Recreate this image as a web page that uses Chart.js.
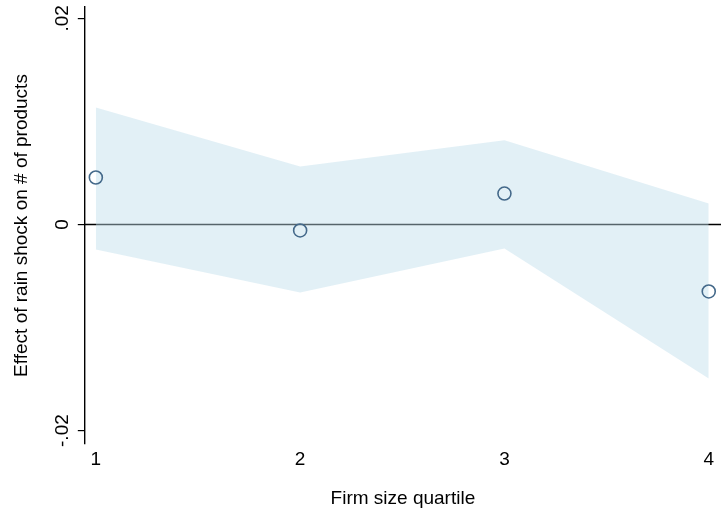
<!DOCTYPE html>
<html>
<head>
<meta charset="utf-8">
<script src="https://cdn.jsdelivr.net/npm/chart.js@4"></script>
<style>
  html, body { margin: 0; padding: 0; background: #fff; }
  #wrap { width: 723px; height: 512px; }
</style>
</head>
<body>
<div id="wrap"><canvas id="chart" width="723" height="512"></canvas></div>
<script>
// Data
const quartiles = [1, 2, 3, 4];
const effect = [0.00456, -0.00058, 0.0030, -0.0065];
const ciUpper = [0.01136, 0.00563, 0.00816, 0.00204];
const ciLower = [-0.00243, -0.0066, -0.00233, -0.01495];
const yTicks = [-0.02, 0, 0.02];
const yTickLabels = ["-.02", "0", ".02"];

const FONT = "'Liberation Sans', Arial, sans-serif";
const FSIZE = 19;

const toPoints = vals => quartiles.map((q, i) => ({ x: q, y: vals[i] }));

// zero reference line, drawn under the band
const zeroLine = {
    id: "zeroLine",
    beforeDatasetsDraw(chart) {
        const { ctx, chartArea, scales } = chart;
        const y = scales.y.getPixelForValue(0);
        ctx.save();
        ctx.strokeStyle = "#000";
        ctx.lineWidth = 1.6;
        ctx.beginPath();
        ctx.moveTo(chartArea.left, y);
        ctx.lineTo(chartArea.right, y);
        ctx.stroke();
        ctx.restore();
    }
};

// rotated y tick labels (Stata style)
const yLabels = {
    id: "yLabels",
    afterDraw(chart) {
        const { ctx, scales } = chart;
        const sc = scales.y;
        ctx.save();
        ctx.font = FSIZE + "px " + FONT;
        ctx.fillStyle = "#000";
        ctx.textAlign = "center";
        ctx.textBaseline = "middle";
        yTicks.forEach((v, i) => {
            const py = sc.getPixelForValue(v);
            ctx.save();
            ctx.translate(sc.right - 22, py);
            ctx.rotate(-Math.PI / 2);
            ctx.fillText(yTickLabels[i], 0, 0);
            ctx.restore();
        });
        ctx.restore();
    }
};

new Chart(document.getElementById("chart"), {
    type: "scatter",
    data: {
        datasets: [
            {
                label: "upper",
                type: "line",
                data: toPoints(ciUpper),
                borderWidth: 0,
                pointRadius: 0,
                fill: "+1",
                backgroundColor: "rgba(191,221,234,0.45)",
                order: 2
            },
            {
                label: "lower",
                type: "line",
                data: toPoints(ciLower),
                borderWidth: 0,
                pointRadius: 0,
                fill: false,
                order: 2
            },
            {
                label: "effect",
                data: toPoints(effect),
                pointRadius: 6.5,
                pointBorderWidth: 1.6,
                pointBorderColor: "#44698a",
                pointBackgroundColor: "rgba(0,0,0,0)",
                order: 1
            }
        ]
    },
    options: {
        responsive: false,
        animation: false,
        layout: {
            autoPadding: false,
            padding: { left: 5, right: 2, top: 7, bottom: 2 }
        },
        plugins: {
            legend: { display: false },
            tooltip: { enabled: false }
        },
        scales: {
            x: {
                type: "linear",
                min: 0.946,
                max: 4.06,
                afterBuildTicks: s => { s.ticks = quartiles.map(v => ({ value: v })); },
                afterFit: s => { s.paddingLeft = 0; s.paddingRight = 0; },
                grid: { display: false, drawTicks: false },
                border: { display: false },
                ticks: {
                    padding: 4,
                    color: "#000",
                    font: { family: FONT, size: FSIZE },
                    callback: v => String(v)
                },
                title: {
                    display: true,
                    text: "Firm size quartile",
                    color: "#000",
                    font: { family: FONT, size: FSIZE },
                    padding: { top: 12.4, bottom: 0 }
                }
            },
            y: {
                type: "linear",
                min: -0.0213,
                max: 0.0211,
                afterBuildTicks: s => { s.ticks = yTicks.map(v => ({ value: v })); },
                afterFit: s => { s.paddingTop = 0; s.paddingBottom = 0; },
                grid: {
                    drawOnChartArea: false,
                    drawTicks: true,
                    tickLength: 7,
                    color: "#000",
                    lineWidth: 1.2
                },
                border: { display: true, color: "#000", width: 1.4 },
                ticks: { display: false },
                title: {
                    display: true,
                    text: "Effect of rain shock on # of products",
                    color: "#000",
                    font: { family: FONT, size: FSIZE },
                    padding: { top: 5, bottom: 45 }
                }
            }
        }
    },
    plugins: [zeroLine, yLabels]
});
</script>
</body>
</html>
